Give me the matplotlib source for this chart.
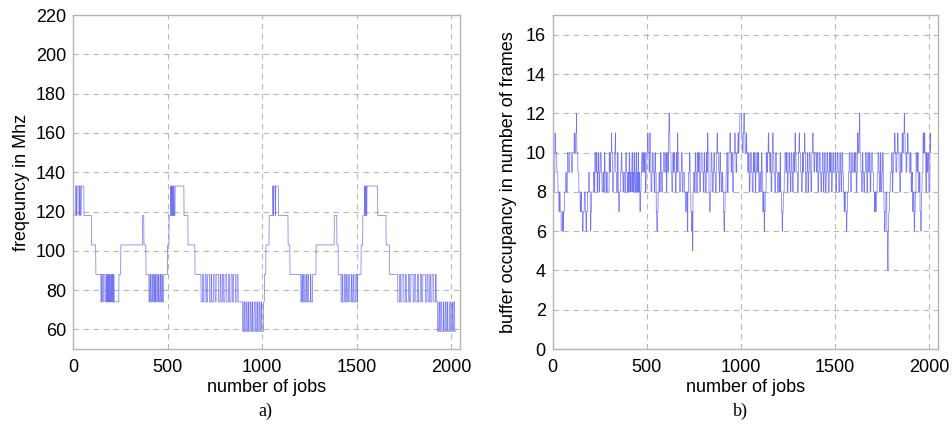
import numpy as np
import matplotlib
matplotlib.use('Agg')
import matplotlib.pyplot as plt

# frequency trace as (level in MHz, number of jobs) runs, read off panel a)
freq_runs = [
    (118, 8), (133, 6), (118, 3), (133, 10), (118, 2), (133, 6), (118, 4), (133, 14),
    (118, 40), (103, 23), (88, 27),
    (74, 3), (88, 6), (74, 4), (88, 8), (74, 6), (88, 3), (74, 5), (88, 2), (74, 4),
    (88, 3), (74, 3), (88, 2), (74, 5), (88, 3), (74, 4), (88, 2), (74, 3), (88, 4), (74, 25),
    (88, 10), (103, 115), (118, 7), (103, 11), (88, 16),
    (74, 5), (88, 4), (74, 6), (88, 3), (74, 5), (88, 5), (74, 4), (88, 3), (74, 6),
    (88, 4), (74, 5), (88, 3), (74, 6), (88, 4), (74, 5), (88, 3), (74, 7), (88, 20),
    (103, 8), (118, 8),
    (133, 3), (118, 2), (133, 4), (118, 3), (133, 2), (118, 2), (133, 3), (118, 5), (133, 4),
    (133, 43), (118, 21), (103, 37), (88, 32),
    (74, 8), (88, 5), (74, 9), (88, 6), (74, 7), (88, 10), (74, 8), (88, 4), (74, 10),
    (88, 7), (74, 6), (88, 12), (74, 9), (88, 5), (74, 8), (88, 6), (74, 7), (88, 9),
    (74, 10), (88, 5), (74, 8), (88, 7), (74, 6), (88, 10), (74, 8), (88, 6), (74, 10),
    (74, 14),
    (59, 6), (74, 4), (59, 7), (74, 5), (59, 6), (74, 3), (59, 8), (74, 5), (59, 6),
    (74, 4), (59, 7), (74, 6), (59, 8), (74, 4), (59, 7), (74, 5), (59, 6), (74, 4),
    (59, 9), (74, 5),
    (88, 8), (103, 17), (118, 18),
    (133, 4), (118, 3), (133, 8), (118, 2), (133, 14),
    (118, 51), (103, 10), (88, 58),
    (74, 5), (88, 3), (74, 6), (88, 4), (74, 8), (88, 3), (74, 7), (88, 4), (74, 10),
    (88, 3), (74, 9),
    (88, 18), (103, 96), (118, 14), (103, 7), (88, 15),
    (74, 6), (88, 4), (74, 8), (88, 5), (74, 6), (88, 4), (74, 7), (88, 6), (74, 8),
    (88, 4), (74, 6), (88, 5), (74, 9), (88, 6), (74, 4),
    (88, 18), (103, 9), (118, 9),
    (133, 3), (118, 3), (133, 5), (118, 2), (133, 4),
    (133, 53), (118, 44), (103, 18), (88, 44),
    (74, 9), (88, 6), (74, 7), (88, 10), (74, 8), (88, 5), (74, 11), (88, 6), (74, 7),
    (88, 12), (74, 6), (88, 8), (74, 9), (88, 5), (74, 10), (88, 7), (74, 6), (88, 14),
    (74, 8), (88, 6), (74, 9), (88, 5), (74, 7), (88, 9), (74, 9), (88, 4), (74, 7),
    (59, 7), (74, 4), (59, 6), (74, 5), (59, 8), (74, 3), (59, 7), (74, 5), (59, 6),
    (74, 4), (59, 9), (74, 5), (59, 7), (74, 4), (59, 6), (74, 5), (59, 7),
]

# buffer occupancy as (frames, number of jobs) runs, panel b), ~100 jobs per line
buf_runs = [
    (9, 5), (8, 4), (9, 3), (11, 2), (10, 8), (9, 6), (8, 5), (7, 4), (8, 3), (7, 5), (6, 6), (7, 4), (6, 3), (7, 5), (8, 6), (9, 4), (8, 5), (10, 5), (9, 7), (10, 10),
    (9, 6), (10, 8), (11, 3), (10, 5), (11, 4), (12, 2), (10, 6), (9, 5), (8, 7), (7, 4), (8, 3), (7, 5), (6, 4), (7, 6), (8, 5), (7, 4), (6, 3), (7, 5), (8, 6), (9, 5), (8, 4),
    (6, 3), (7, 4), (8, 10), (9, 4), (8, 3), (10, 5), (9, 3), (10, 4), (8, 3), (9, 4), (10, 3), (8, 4), (9, 3), (10, 5), (9, 4), (8, 6), (9, 3), (8, 4), (10, 3), (9, 5), (8, 4), (9, 3), (8, 10),
    (10, 4), (9, 3), (10, 5), (11, 2), (10, 4), (8, 6), (9, 3), (10, 5), (11, 3), (9, 4), (8, 5), (10, 4), (8, 3), (7, 4), (8, 6), (9, 3), (10, 4), (9, 5), (8, 4), (9, 6), (8, 5), (10, 4), (9, 4), (8, 4),
    (9, 3), (8, 3), (10, 4), (8, 3), (9, 2), (8, 3), (9, 3), (10, 3), (8, 2), (9, 3), (8, 3), (10, 2), (9, 3), (8, 4), (9, 2), (10, 3), (8, 3), (9, 3), (8, 2), (10, 3), (8, 3), (9, 3), (7, 3), (8, 4), (9, 3), (10, 5), (9, 3), (10, 4), (9, 3), (10, 5), (8, 3), (9, 4),
    (10, 4), (11, 3), (10, 5), (9, 4), (11, 2), (10, 4), (8, 5), (9, 4), (10, 3), (9, 5), (8, 4), (10, 3), (9, 4), (7, 3), (6, 4), (7, 3), (8, 5), (9, 3), (8, 4), (10, 4), (9, 3), (8, 5), (9, 4), (10, 6), (9, 6),
    (10, 4), (8, 3), (10, 5), (9, 3), (11, 3), (12, 2), (11, 3), (10, 6), (9, 4), (8, 5), (10, 3), (9, 3), (10, 4), (9, 5), (8, 3), (10, 4), (9, 3), (11, 2), (10, 5), (9, 4), (8, 6), (9, 4), (10, 4), (8, 5), (9, 7),
    (8, 6), (7, 4), (8, 5), (6, 3), (8, 4), (9, 5), (10, 3), (8, 4), (7, 4), (6, 3), (7, 2), (5, 2), (8, 4), (9, 5), (8, 3), (10, 4), (9, 3), (8, 5), (10, 4), (9, 3), (10, 5), (8, 4), (9, 3), (10, 6), (9, 6),
    (8, 4), (10, 4), (9, 3), (8, 5), (10, 3), (9, 4), (11, 2), (10, 5), (8, 4), (7, 3), (8, 4), (10, 5), (9, 3), (8, 4), (9, 3), (10, 4), (9, 4), (8, 5), (10, 4), (11, 3), (10, 5), (9, 4), (8, 3), (10, 4), (9, 3), (8, 5),
    (9, 4), (8, 3), (7, 3), (6, 3), (7, 3), (8, 5), (9, 4), (10, 3), (8, 4), (9, 4), (10, 5), (11, 3), (10, 4), (9, 3), (10, 5), (8, 4), (9, 3), (10, 4), (11, 3), (10, 4), (9, 4), (10, 6), (11, 3), (10, 3), (11, 4), (12, 6),
    (12, 3), (11, 4), (10, 5), (11, 3), (12, 4), (11, 3), (10, 6), (11, 3), (10, 4), (9, 5), (10, 4), (8, 4), (9, 3), (10, 5), (9, 4), (8, 5), (10, 3), (9, 4), (10, 4), (8, 3), (9, 5), (10, 4), (9, 4), (10, 3), (8, 5),
    (9, 4), (8, 5), (10, 3), (9, 4), (7, 3), (8, 4), (6, 3), (7, 3), (8, 5), (10, 4), (9, 3), (10, 4), (11, 3), (10, 5), (9, 4), (10, 3), (8, 4), (9, 5), (11, 2), (10, 4), (9, 5), (8, 4), (10, 5), (9, 6), (8, 5),
    (9, 4), (8, 4), (10, 3), (8, 5), (7, 3), (6, 3), (7, 3), (8, 5), (9, 4), (10, 5), (9, 3), (10, 4), (8, 4), (9, 5), (10, 4), (9, 3), (8, 4), (10, 5), (9, 4), (8, 3), (10, 5), (9, 4), (11, 2), (10, 4), (9, 7),
    (8, 5), (10, 4), (11, 3), (10, 5), (9, 4), (8, 5), (10, 3), (9, 4), (10, 5), (11, 2), (10, 4), (8, 3), (9, 5), (10, 4), (8, 4), (9, 3), (10, 5), (9, 4), (8, 4), (10, 5), (11, 3), (10, 4), (9, 4), (10, 8),
    (9, 4), (10, 5), (8, 4), (9, 3), (10, 5), (9, 4), (8, 4), (9, 3), (10, 5), (8, 4), (9, 4), (10, 3), (8, 5), (9, 4), (10, 4), (9, 3), (8, 5), (10, 4), (9, 3), (10, 5), (8, 4), (9, 3), (10, 4), (9, 8),
    (10, 4), (8, 4), (9, 3), (10, 5), (9, 4), (8, 5), (10, 4), (9, 3), (8, 4), (10, 5), (9, 3), (8, 4), (7, 3), (8, 5), (7, 4), (6, 3), (7, 3), (8, 5), (9, 4), (10, 5), (9, 3), (8, 4), (10, 5), (9, 8),
    (10, 4), (9, 3), (10, 5), (8, 4), (9, 3), (11, 3), (10, 5), (11, 2), (12, 3), (10, 5), (9, 4), (8, 4), (10, 3), (9, 5), (8, 4), (9, 4), (10, 5), (9, 3), (8, 4), (10, 5), (9, 4), (10, 4), (8, 4), (9, 4), (10, 6),
    (9, 4), (8, 5), (7, 3), (8, 4), (7, 3), (8, 5), (9, 4), (10, 5), (9, 3), (8, 4), (10, 4), (8, 5), (9, 3), (10, 4), (8, 4), (7, 3), (6, 3), (7, 4), (8, 5), (6, 3), (5, 2), (4, 2), (6, 3), (7, 4), (8, 4), (9, 7),
    (10, 4), (8, 3), (9, 4), (10, 5), (11, 3), (10, 4), (9, 5), (10, 3), (11, 4), (10, 5), (9, 4), (8, 3), (10, 5), (9, 4), (11, 3), (10, 4), (11, 4), (12, 2), (11, 3), (10, 5), (9, 4), (10, 4), (11, 3), (10, 6), (9, 6),
    (10, 4), (8, 4), (9, 3), (7, 4), (8, 5), (6, 3), (7, 3), (8, 4), (10, 5), (9, 4), (10, 3), (8, 5), (9, 4), (7, 4), (6, 3), (8, 4), (9, 5), (11, 3), (10, 4), (11, 3), (10, 5), (8, 4), (10, 3), (9, 4), (10, 5), (8, 6), (11, 3), (10, 3),
]

freq_ticks = [60, 80, 100, 120, 140, 160, 180, 200, 220]
buf_ticks = [0, 2, 4, 6, 8, 10, 12, 14, 16]
job_ticks = [0, 500, 1000, 1500, 2000]


def expand(runs, start):
    vals = np.repeat([r[0] for r in runs], [r[1] for r in runs]).astype(float)
    return np.arange(len(vals)) + start, vals


freq_jobs, freq = expand(freq_runs, 5)
buf_jobs, buf = expand(buf_runs, 0)

plt.rcParams['font.family'] = ['Liberation Sans', 'DejaVu Sans']
line_color = '#7272f2'
frame_color = '#b4b4b4'

fig = plt.figure(figsize=(9.53, 4.32), dpi=100)
ax1 = fig.add_axes([0.0766, 0.192, 0.406, 0.773])
ax2 = fig.add_axes([0.580, 0.192, 0.404, 0.773])

ax1.plot(freq_jobs, freq, color=line_color, lw=0.5)
ax2.plot(buf_jobs, buf, color=line_color, lw=0.5)

for ax in (ax1, ax2):
    ax.set_xlim(0, 2045)
    ax.set_xticks(job_ticks)
    ax.grid(True, linestyle=(0, (5, 4)), color='#b8b8b8', lw=0.8)
    ax.tick_params(length=0, labelsize=13, pad=7)
    ax.tick_params(axis='y', pad=5)
    for s in ax.spines.values():
        s.set_color(frame_color)
        s.set_linewidth(1.0)
    ax.set_xlabel('number of jobs', fontsize=13, labelpad=2)

ax1.set_ylim(50, 220)
ax1.set_yticks(freq_ticks)
ax1.set_ylabel('freqeuncy in Mhz', fontsize=13, labelpad=4)

ax2.set_ylim(0, 17)
ax2.set_yticks(buf_ticks)
ax2.set_ylabel('buffer occupancy in number of frames', fontsize=13, labelpad=6)

fig.text(0.278, 0.048, 'a)', family='Liberation Serif', fontsize=13, ha='center', va='center')
fig.text(0.777, 0.048, 'b)', family='Liberation Serif', fontsize=13, ha='center', va='center')

fig.savefig('out.png', dpi=100)
